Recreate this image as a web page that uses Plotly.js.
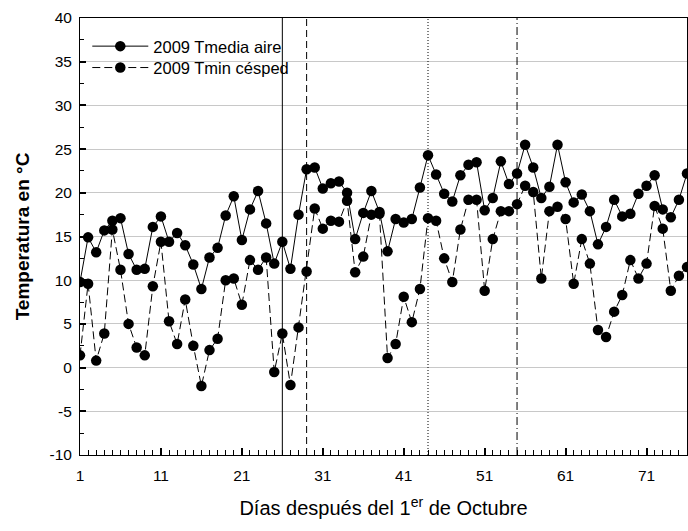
<!DOCTYPE html>
<html>
<head>
<meta charset="utf-8">
<script src="https://cdn.plot.ly/plotly-3.0.1.min.js"></script>
<style>html,body{margin:0;padding:0;background:#fff;}#chart{width:688px;height:531px;}</style>
</head>
<body>
<div id="chart"></div>
<script>
const days = Array.from({length: 76}, (_, i) => i + 1);
const tmediaAire = [
  9.8, 14.9, 13.2, 15.7, 16.8, 17.1, 13.0, 11.2, 11.3, 16.1,
  17.3, 14.4, 15.4, 14.0, 11.8, 9.0, 12.6, 13.7, 17.4, 19.6,
  14.6, 18.1, 20.2, 16.5, 11.9, 14.4, 11.3, 17.5, 22.7, 22.9,
  20.5, 21.1, 21.3, 20.0, 14.7, 17.7, 20.2, 17.8, 13.3, 17.0,
  16.6, 17.0, 20.6, 24.3, 22.1, 19.9, 19.0, 22.0, 23.2, 23.5,
  18.0, 19.4, 23.6, 21.0, 22.2, 25.5, 22.9, 19.4, 20.7, 25.5,
  21.2, 18.9, 19.8, 17.9, 14.1, 16.1, 19.2, 17.3, 17.6, 19.9,
  20.8, 22.0, 18.1, 17.2, 19.2, 22.2
];
const tminCesped = [
  1.4, 9.6, 0.8, 3.9, 15.8, 11.2, 5.0, 2.3, 1.4, 9.3,
  14.4, 5.3, 2.7, 7.8, 2.5, -2.1, 2.0, 3.3, 10.0, 10.2,
  7.2, 12.3, 11.2, 12.6, -0.5, 3.9, -2.0, 4.6, 11.0, 18.2,
  15.9, 16.8, 16.7, 19.1, 10.9, 12.7, 17.5, 17.6, 1.1, 2.7,
  8.1, 5.2, 9.0, 17.1, 16.8, 12.5, 9.8, 15.8, 19.2, 19.2,
  8.8, 14.7, 17.9, 17.9, 18.7, 20.8, 20.1, 10.2, 17.9, 18.4,
  17.0, 9.6, 14.7, 11.9, 4.3, 3.5, 6.4, 8.3, 12.3, 10.2,
  11.9, 18.5, 15.9, 8.8, 10.5, 11.5
];
const seriesNames = ['2009 Tmedia aire', '2009 Tmin césped'];
const xTickVals = [1, 11, 21, 31, 41, 51, 61, 71];
const xTickText = ['1', '11', '21', '31', '41', '51', '61', '71'];
const yTickVals = [-10, -5, 0, 5, 10, 15, 20, 25, 30, 35, 40];
const yTickText = ['-10', '-5', '0', '5', '10', '15', '20', '25', '30', '35', '40'];
const markerDays = [26, 29, 44, 55];
const markerDashes = ['solid', '7px,4px', '1px,2px', '8px,3px,1px,3px'];

const font = 'Liberation Sans, Arial, sans-serif';

const traces = [
  {
    x: days, y: tmediaAire, name: seriesNames[0], type: 'scatter', mode: 'lines+markers',
    line: {color: '#000', width: 1},
    marker: {color: '#000', size: 10.5},
    legend: 'legend'
  },
  {
    x: days, y: tminCesped, name: seriesNames[1], type: 'scatter', mode: 'lines+markers',
    line: {color: '#000', width: 1, dash: '8px,4px'},
    marker: {color: '#000', size: 10.5},
    legend: 'legend2'
  }
];

const shapes = markerDays.map((d, i) => ({
  type: 'line', xref: 'x', yref: 'paper', x0: d, x1: d, y0: 0, y1: 1,
  line: {color: '#000', width: 1, dash: markerDashes[i]},
  layer: 'above'
}));

const legendBase = {
  x: 0.012, xanchor: 'left', yanchor: 'middle',
  bgcolor: 'rgba(0,0,0,0)', borderwidth: 0,
  font: {family: font, size: 16.5, color: '#000'},
  itemwidth: 56
};

const layout = {
  width: 688, height: 531,
  margin: {l: 80, r: 1, t: 18, b: 76},
  paper_bgcolor: '#fff', plot_bgcolor: '#fff',
  font: {family: font, color: '#000', size: 15},
  showlegend: true,
  legend: Object.assign({}, legendBase, {y: 0.935}),
  legend2: Object.assign({}, legendBase, {y: 0.886}),
  xaxis: {
    range: [1, 76], tickmode: 'array', tickvals: xTickVals, ticktext: xTickText,
    ticks: 'inside', ticklen: 7, tickwidth: 2, tickcolor: '#000',
    minor: {dtick: 1, tick0: 1, ticks: 'inside', ticklen: 5, tickwidth: 1, tickcolor: '#000', showgrid: false},
    showline: true, linecolor: '#000', linewidth: 1, mirror: true,
    showgrid: false, zeroline: false, ticklabelstandoff: 6,
    tickfont: {family: font, size: 15.5, color: '#000'},
    title: {text: 'Días después del 1<sup>er</sup> de Octubre', font: {family: font, size: 20, color: '#000'}, standoff: 18}
  },
  yaxis: {
    range: [-10, 40], tickmode: 'array', tickvals: yTickVals, ticktext: yTickText,
    ticks: 'inside', ticklen: 6, tickwidth: 2, tickcolor: '#000',
    minor: {dtick: 2.5, tick0: 0, ticks: 'inside', ticklen: 4, tickwidth: 1, tickcolor: '#000', showgrid: false},
    showline: true, linecolor: '#000', linewidth: 1, mirror: true,
    showgrid: true, gridcolor: '#c8c8c8', gridwidth: 1, zeroline: false, ticklabelstandoff: 4,
    tickfont: {family: font, size: 15.5, color: '#000'},
    title: {text: 'Temperatura en °C', font: {family: font, size: 19, color: '#000', weight: 'bold'}, standoff: 14}
  },
  shapes: shapes
};

Plotly.newPlot('chart', traces, layout, {displayModeBar: false, staticPlot: true});
</script>
</body>
</html>
